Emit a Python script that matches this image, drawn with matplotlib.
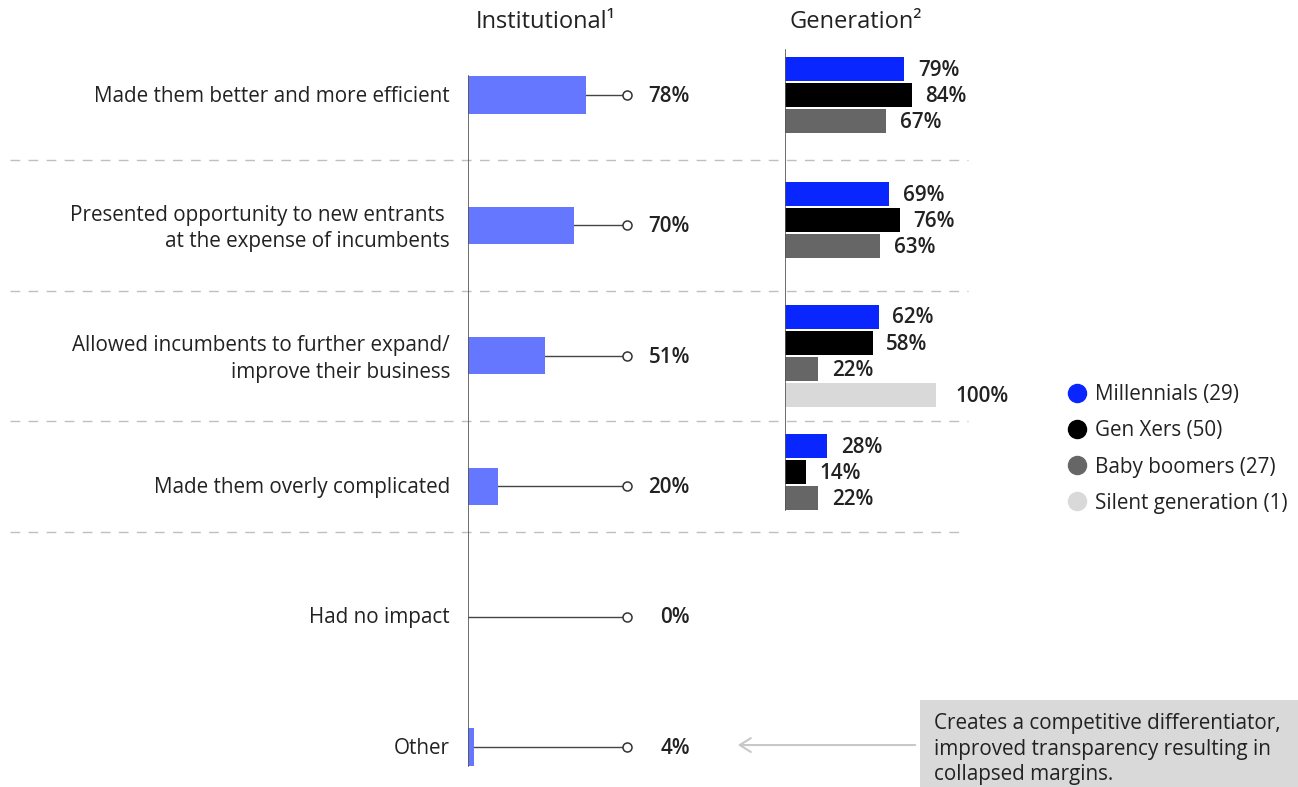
import matplotlib.pyplot as plt
from matplotlib.lines import Line2D
from matplotlib.patches import Rectangle
from matplotlib import transforms

plt.rcParams['font.family'] = ['Open Sans', 'DejaVu Sans']

# Institutional responses
categories = [
    "Made them better and more efficient",
    "Presented opportunity to new entrants \nat the expense of incumbents",
    "Allowed incumbents to further expand/\nimprove their business",
    "Made them overly complicated",
    "Had no impact",
    "Other",
]
institutional = [78, 70, 51, 20, 0, 4]

# Generation responses (first four categories only)
generations = ["Millennials (29)", "Gen Xers (50)", "Baby boomers (27)", "Silent generation (1)"]
gen_values = [
    [79, 84, 67],
    [69, 76, 63],
    [62, 58, 22, 100],
    [28, 14, 22],
]
gen_colors = ["#0A26FF", "#000000", "#666666", "#D9D9D9"]
inst_color = "#6677FF"
text_color = "#222222"

note_text = ("Creates a competitive differentiator,\n"
             "improved transparency resulting in\n"
             "collapsed margins.")

W, H = 1298, 787
fig = plt.figure(figsize=(W / 100, H / 100), dpi=100)

# pixel helpers for axes placement
px_per_unit = 1.51
row_px = 130.4
row0_px = 95
ylim = (5.3, -0.5)
top_px = row0_px + ylim[1] * row_px
bot_px = row0_px + ylim[0] * row_px
ax_h = (bot_px - top_px) / H
ax_b = 1 - bot_px / H
ax_w = 150 * px_per_unit / W

ax = fig.add_axes([468 / W, ax_b, ax_w, ax_h])
ax2 = fig.add_axes([785 / W, ax_b, ax_w, ax_h])
for a in (ax, ax2):
    a.set_xlim(0, 150)
    a.set_ylim(*ylim)
    a.axis("off")

fs = 14.9

# --- left panel: institutional bars with leader lines
bh = 0.284
rows = list(range(len(categories)))
ax.barh(rows, institutional, height=bh, color=inst_color, zorder=2)
ax.plot([0, 0], [-bh / 2, rows[-1] + bh / 2], color="#555555", lw=1.2, zorder=3)
for i, (cat, v) in enumerate(zip(categories, institutional)):
    ax.plot([v, 105.3], [i, i], color="#444444", lw=1, zorder=1)
    ax.plot(105.3, i, marker="o", ms=6.5, mfc="white", mec="#333333", mew=1.1, zorder=4,
            clip_on=False)
    ax.text(147, i + 0.01, f"{v}%", ha="right", va="center", fontsize=fs, fontweight="semibold",
            color=text_color)
    dy = 0.025 if "\n" in cat else 0.01
    ax.text(-12, i + dy, cat, ha="right", va="center", fontsize=fs, color=text_color,
            linespacing=1.35, multialignment="right")

ax.text(5.3, -0.56, "Institutional¹", ha="left", va="center", fontsize=17, color=text_color)

# --- right panel: generation bars
gbh = 0.184
step = 0.2
shifts = [0.0, -0.04, 0.0, -0.11]
gtop = -0.345
gbottom = 0
for g, vals in enumerate(gen_values):
    n = len(vals)
    center = g + shifts[g]
    for k, v in enumerate(vals):
        y = center + (k - (n - 1) / 2) * step
        ax2.barh(y, v, height=gbh, color=gen_colors[k], zorder=2)
        off = 13 if v == 100 else 9
        ax2.text(v + off, y + 0.01, f"{v}%", ha="left", va="center", fontsize=fs,
                 fontweight="semibold", color=text_color)
        gbottom = max(gbottom, y + gbh / 2)
ax2.plot([0, 0], [gtop, gbottom], color="#555555", lw=1.2, zorder=3)
ax2.text(3.3, -0.56, "Generation²", ha="left", va="center", fontsize=17, color=text_color)

# --- dashed separators across both panels
sep = transforms.blended_transform_factory(fig.transFigure, ax.transData)
for y, x1 in [(0.495, 968), (1.5, 968), (2.5, 968), (3.35, 960)]:
    ax.plot([10 / W, x1 / W], [y, y], transform=sep, color="#BFBFBF", lw=1,
            dashes=(7, 6), clip_on=False)

# --- legend
handles = [Line2D([], [], ls="none", marker="o", ms=13, mfc=c, mec=c) for c in gen_colors]
fig.legend(handles, generations, loc="center left", bbox_to_anchor=(1067 / W, 1 - 449 / H),
           frameon=False, fontsize=fs, handlelength=0.95, handletextpad=0.42,
           labelspacing=0.73, borderpad=0, borderaxespad=0, labelcolor=text_color)

# --- note box and arrow
fig.add_artist(Rectangle((920 / W, 0), 1 - 920 / W, 1 - 700 / H, transform=fig.transFigure,
                         color="#D9D9D9", lw=0, zorder=0))
fig.text(934 / W, 1 - 749 / H, note_text, ha="left", va="center", fontsize=fs,
         color=text_color, linespacing=1.3)
ax.annotate("", xy=((735 - 468) / px_per_unit, 4.985), xytext=((918 - 468) / px_per_unit, 4.985),
            arrowprops=dict(arrowstyle="->,head_length=0.8,head_width=0.5", color="#C8C8C8",
                            lw=1.5), annotation_clip=False)

fig.savefig("out.png", dpi=100)
